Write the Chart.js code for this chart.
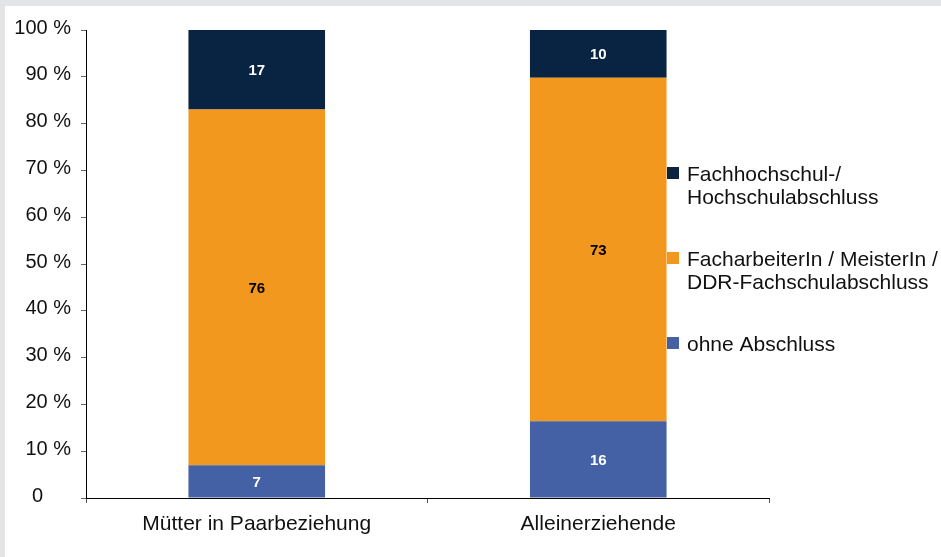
<!DOCTYPE html>
<html>
<head>
<meta charset="utf-8">
<script src="https://cdn.jsdelivr.net/npm/chart.js@4"></script>
<style>
  html, body { margin: 0; padding: 0; }
  body { width: 941px; height: 557px; background: #e3e4e6; position: relative; overflow: hidden; }
  #panel { position: absolute; left: 5px; top: 6px; right: 0; bottom: 0; background: #fff; }
  #chart { position: absolute; left: 0; top: 0; }
</style>
</head>
<body>
<div id="panel"></div>
<canvas id="chart" width="941" height="557"></canvas>
<script>
// Daten (Anteile in %)
const kategorien = ['Mütter in Paarbeziehung', 'Alleinerziehende'];
const ohneAbschluss = [7, 16.4];
const facharbeiter = [76, 73.4];
const hochschule = [17, 10.2];
const yTicks = [0, 10, 20, 30, 40, 50, 60, 70, 80, 90, 100];

const serienNamen = [
  ['ohne Abschluss'],
  ['FacharbeiterIn / MeisterIn /', 'DDR-Fachschulabschluss'],
  ['Fachhochschul-/', 'Hochschulabschluss']
];
const farben = ['#4461a5', '#f2981e', '#092342'];
const labelFarben = ['#ffffff', '#000000', '#ffffff'];

const FONT = '"Liberation Sans", Arial, sans-serif';

// Werte mittig in die Segmente schreiben
const segmentLabels = {
  id: 'segmentLabels',
  afterDatasetsDraw(chart) {
    const ctx = chart.ctx;
    ctx.save();
    ctx.font = 'bold 15px ' + FONT;
    ctx.textAlign = 'center';
    ctx.textBaseline = 'middle';
    chart.data.datasets.forEach((ds, i) => {
      chart.getDatasetMeta(i).data.forEach((bar, j) => {
        ctx.fillStyle = labelFarben[i];
        ctx.fillText(String(Math.round(ds.data[j])), bar.x, (bar.y + bar.base) / 2 + 1);
      });
    });
    ctx.restore();
  }
};

// Legende rechts, mehrzeilig, in umgekehrter Reihenfolge
const legendeRechts = {
  id: 'legendeRechts',
  afterDraw(chart) {
    const ctx = chart.ctx;
    ctx.save();
    ctx.font = '21px ' + FONT;
    ctx.textAlign = 'left';
    ctx.textBaseline = 'alphabetic';
    const n = chart.data.datasets.length;
    for (let k = 0; k < n; k++) {
      const i = n - 1 - k;
      const ds = chart.data.datasets[i];
      const base = 181 + k * 85;
      ctx.fillStyle = ds.backgroundColor;
      ctx.fillRect(667, base - 14, 12, 12);
      ctx.fillStyle = '#111';
      serienNamen[i].forEach((zeile, z) => ctx.fillText(zeile, 687, base + z * 22.5));
    }
    ctx.restore();
  }
};

new Chart(document.getElementById('chart'), {
  type: 'bar',
  data: {
    labels: kategorien,
    datasets: [ohneAbschluss, facharbeiter, hochschule].map((werte, i) => ({
      label: serienNamen[i].join(' '),
      data: werte,
      backgroundColor: farben[i],
      borderWidth: 0,
      barPercentage: 0.4,
      categoryPercentage: 1
    }))
  },
  options: {
    responsive: false,
    animation: false,
    layout: { padding: { left: 0, right: 172, top: 30, bottom: 0 } },
    plugins: { legend: { display: false }, tooltip: { enabled: false } },
    scales: {
      x: {
        stacked: true,
        grid: { display: true, drawOnChartArea: false, drawTicks: true, tickLength: 5, color: '#555', offset: true },
        border: { display: true, color: '#000', width: 1 },
        ticks: { color: '#111', padding: 9, font: { family: FONT, size: 21 } },
        afterFit(s) { s.height = 59; }
      },
      y: {
        stacked: true,
        min: 0,
        max: 100,
        afterBuildTicks(s) { s.ticks = yTicks.map(v => ({ value: v })); },
        grid: { display: true, drawOnChartArea: false, drawTicks: true, tickLength: 5, color: '#666' },
        border: { display: true, color: '#000', width: 1 },
        ticks: {
          color: '#111',
          padding: 10,
          labelOffset: -2,
          font: { family: FONT, size: 20 },
          callback: v => v === 0 ? '0     ' : v + ' %'
        },
        afterFit(s) { s.width = 86; }
      }
    }
  },
  plugins: [segmentLabels, legendeRechts]
});
</script>
</body>
</html>
